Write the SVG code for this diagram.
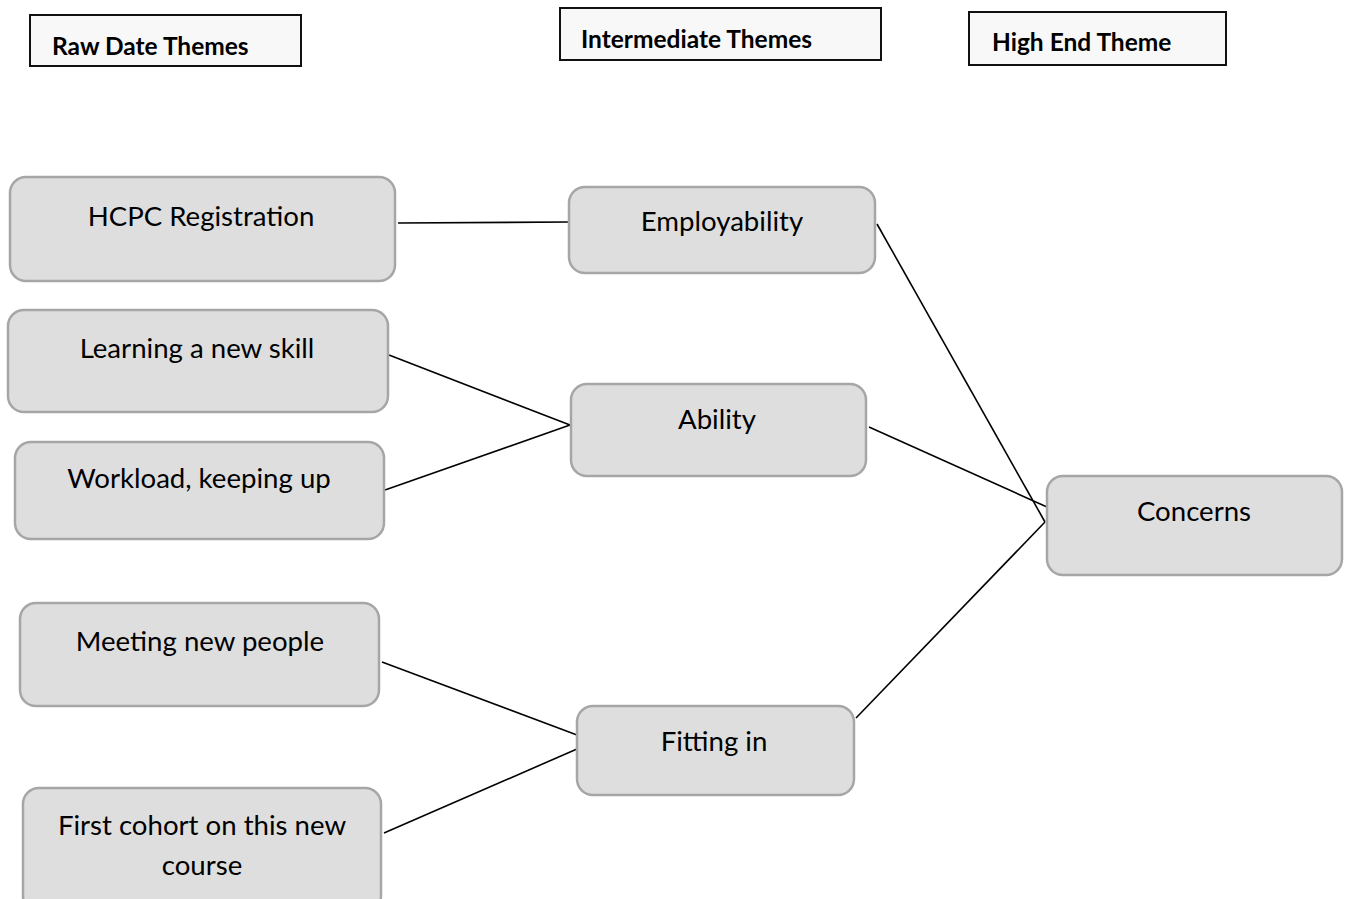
<svg xmlns="http://www.w3.org/2000/svg" width="1349" height="899" viewBox="0 0 1349 899">
<style>
.hdr{fill:#f8f8f8;stroke:#111;stroke-width:2}
.hdrt{font-family:Lato,"Liberation Sans",sans-serif;font-weight:bold;font-size:24.5px;fill:#000}
.node{fill:#dedede;stroke:#a6a6a6;stroke-width:2.5}
.nt{font-family:Lato,"Liberation Sans",sans-serif;font-size:27.6px;fill:#000;text-anchor:middle}
.conn line{stroke:#000;stroke-width:1.6;fill:none}
</style>
<rect width="1349" height="899" fill="#fff"/>
<g id="hdr-raw"><rect class="hdr" x="30" y="15" width="271" height="51"/><text class="hdrt" x="52" y="55">Raw Date Themes</text></g>
<g id="hdr-int"><rect class="hdr" x="560" y="8" width="321" height="52"/><text class="hdrt" x="581" y="48">Intermediate Themes</text></g>
<g id="hdr-high"><rect class="hdr" x="969" y="12" width="257" height="53"/><text class="hdrt" x="992" y="51">High End Theme</text></g>
<g class="conn" id="connectors">
<line x1="398" y1="223" x2="569" y2="222"/>
<line x1="389" y1="355" x2="570" y2="425"/>
<line x1="385" y1="490" x2="570" y2="425"/>
<line x1="382" y1="662" x2="577" y2="735"/>
<line x1="384" y1="833" x2="577" y2="749"/>
<line x1="877" y1="224" x2="1045" y2="522"/>
<line x1="869" y1="427" x2="1047" y2="507"/>
<line x1="856" y1="718" x2="1045" y2="522"/>
</g>
<g id="n-hcpc"><rect class="node" x="10" y="177" width="385" height="104" rx="16"/><text class="nt" x="201" y="226">HCPC Registration</text></g>
<g id="n-learning"><rect class="node" x="8" y="310" width="380" height="102" rx="16"/><text class="nt" x="197" y="358">Learning a new skill</text></g>
<g id="n-workload"><rect class="node" x="15" y="442" width="369" height="97" rx="16"/><text class="nt" x="199" y="488">Workload, keeping up</text></g>
<g id="n-meeting"><rect class="node" x="20" y="603" width="359" height="103" rx="16"/><text class="nt" x="200" y="651">Meeting new people</text></g>
<g id="n-cohort"><rect class="node" x="23" y="788" width="358" height="124" rx="16"/><text class="nt" x="202" y="835">First cohort on this new</text><text class="nt" x="202" y="875">course</text></g>
<g id="n-employ"><rect class="node" x="569" y="187" width="306" height="86" rx="16"/><text class="nt" x="722" y="231">Employability</text></g>
<g id="n-ability"><rect class="node" x="571" y="384" width="295" height="92" rx="16"/><text class="nt" x="717" y="429">Ability</text></g>
<g id="n-fitting"><rect class="node" x="577" y="706" width="277" height="89" rx="16"/><text class="nt" x="714" y="751">Fitting in</text></g>
<g id="n-concerns"><rect class="node" x="1047" y="476" width="295" height="99" rx="16"/><text class="nt" x="1194" y="521">Concerns</text></g>
</svg>
